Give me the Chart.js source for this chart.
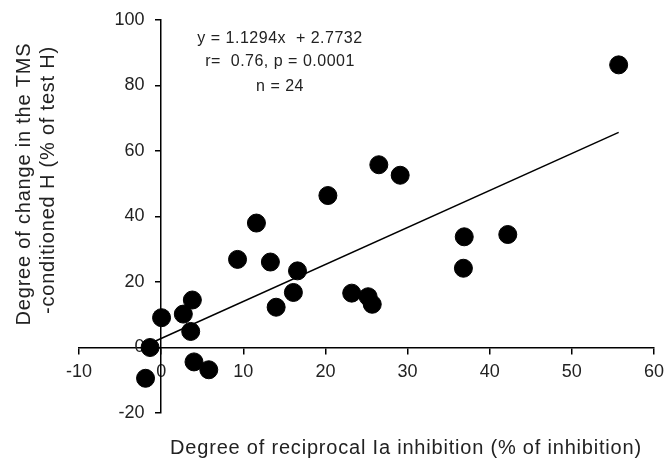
<!DOCTYPE html>
<html>
<head>
<meta charset="utf-8">
<script src="https://cdn.jsdelivr.net/npm/chart.js@4/dist/chart.umd.min.js"></script>
<style>
  html, body { margin: 0; padding: 0; background: #fff; }
  #wrap { width: 668px; height: 467px; }
</style>
</head>
<body>
<div id="wrap"><canvas id="chart"></canvas></div>
<script>
// values
const inhibition = [55.7, 26.5, 29.1, 20.3, 11.6, 36.9, 42.2, 36.8, 9.3, 13.3, 16.6, 16.1,
                    14.0, 23.2, 25.2, 25.7, 3.8, 2.7, 0.05, 3.6, -1.35, 4.0, 5.8, -1.9];
const changeH    = [86.3, 55.8, 52.6, 46.4, 38.0, 33.8, 34.5, 24.2, 26.9, 26.1, 23.4, 16.8,
                    12.3, 16.6, 15.5, 13.2, 14.5, 10.2, 9.1, 4.9, 0, -4.4, -6.8, -9.4];

// trend line end points (Excel linear trendline)
const trendX = [-1.9, 55.7];
const trendY = [0.6, 65.7];

const xTicks = [-10, 0, 10, 20, 30, 40, 50, 60];
const yTicks = [-20, 0, 20, 40, 60, 80, 100];

const statsText = ['y = 1.1294x  + 2.7732', 'r=  0.76, p = 0.0001', 'n = 24'];
const xTitle = 'Degree of reciprocal Ia inhibition (% of inhibition)';
const yTitle = ['Degree of change in the TMS', '-conditioned H (% of test H)'];

const FONT = '"Liberation Sans", Arial, sans-serif';

// titles and the equation box are drawn as text after the chart
const textPlugin = {
    id: 'textPlugin',
    afterDraw(chart) {
        const ctx = chart.ctx;
        ctx.save();
        ctx.fillStyle = '#222';
        ctx.textAlign = 'center';
        ctx.textBaseline = 'middle';

        ctx.font = '16px ' + FONT;
        ctx.letterSpacing = '0.5px';
        const ys = [39, 62, 87];
        statsText.forEach((t, i) => ctx.fillText(t, 280, ys[i]));

        ctx.font = '20px ' + FONT;
        ctx.letterSpacing = '0.8px';
        ctx.textBaseline = 'alphabetic';
        ctx.fillText(xTitle, 406, 454);

        ctx.textBaseline = 'middle';
        ctx.translate(24, 184);
        ctx.rotate(-Math.PI / 2);
        ctx.fillText(yTitle[0], 0, 0);
        ctx.fillText(yTitle[1], 4, 24);
        ctx.restore();
    }
};

const ctx = document.getElementById('chart').getContext('2d');
new Chart(ctx, {
    type: 'scatter',
    data: {
        datasets: [
            {
                data: inhibition.map((x, i) => ({ x: x, y: changeH[i] })),
                backgroundColor: '#000',
                borderColor: '#000',
                pointRadius: 9,
                pointHoverRadius: 9
            },
            {
                type: 'line',
                data: trendX.map((x, i) => ({ x: x, y: trendY[i] })),
                borderColor: '#000',
                borderWidth: 1.5,
                pointRadius: 0,
                fill: false
            }
        ]
    },
    options: {
        responsive: true,
        maintainAspectRatio: false,
        animation: false,
        layout: { padding: { left: 79, right: 14, top: 20, bottom: 54 } },
        plugins: {
            legend: { display: false },
            tooltip: { enabled: false }
        },
        scales: {
            x: {
                type: 'linear',
                position: { y: 0 },
                min: -10,
                max: 60,
                afterBuildTicks: axis => { axis.ticks = xTicks.map(v => ({ value: v })); },
                grid: { drawOnChartArea: false, drawTicks: true, tickLength: 6, color: '#000', lineWidth: 1.5 },
                border: { color: '#000', width: 1.5 },
                // bigger lineHeight pushes the labels down without widening the side padding
                ticks: { color: '#222', font: { family: FONT, size: 18, lineHeight: 1.65 }, padding: 4, maxRotation: 0 }
            },
            y: {
                type: 'linear',
                position: { x: 0 },
                min: -20,
                max: 100,
                afterBuildTicks: axis => { axis.ticks = yTicks.map(v => ({ value: v })); },
                grid: { drawOnChartArea: false, drawTicks: true, tickLength: 5, color: '#000', lineWidth: 1.5 },
                border: { color: '#000', width: 1.5 },
                // labels sit left of the axis line, so pad them with trailing spaces
                ticks: { color: '#222', font: { family: FONT, size: 18 },
                         callback: v => v + '\u2007 \u200A' }
            }
        }
    },
    plugins: [textPlugin]
});
</script>
</body>
</html>
